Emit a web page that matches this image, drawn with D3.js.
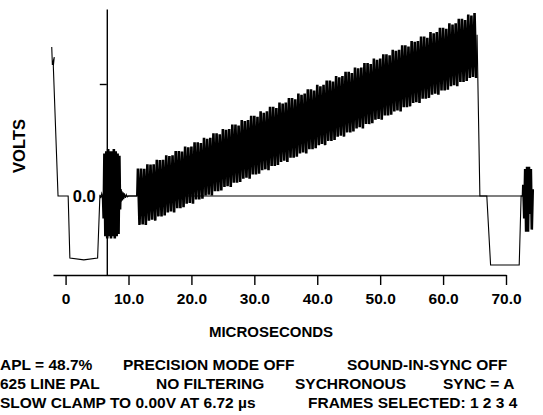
<!DOCTYPE html>
<html>
<head>
<meta charset="utf-8">
<script src="https://cdn.jsdelivr.net/npm/d3@7"></script>
<style>
  body { margin: 0; background: #fff; }
  text { font-family: "Liberation Sans", Arial, sans-serif; font-weight: bold; fill: #000; }
</style>
</head>
<body>
<div class="container"></div>
<script>
var svgWidth = 543;
var svgHeight = 415;
var margin = {
  top: 9,
  right: 37,
  bottom: 140,
  left: 53
};
var width = svgWidth - margin.left - margin.right;
var height = svgHeight - margin.top - margin.bottom;

// axis ticks
var xTicks = [0, 10, 20, 30, 40, 50, 60, 70];
var xTickLabels = ["0", "10.0", "20.0", "30.0", "40.0", "50.0", "60.0", "70.0"];
var yTicks = [0, 0.5];
var yTickLabels = ["0.0", ""];
var yAxisAt = 6.55; // microseconds, where the volts axis crosses

// end of previous line, sync and back porch (microseconds / volts)
var leadTime = [-2.2, -2.1, -1.8, -1.95, -1.2, 0.41, 0.68, 2.9, 5.09, 5.46, 5.6, 5.75, 5.9];
var leadVolts = [0.665, 0.585, 0.62, 0.58, 0.0, 0.0, -0.277, -0.285, -0.277, 0.005, -0.01, 0.012, 0.0];

// colour burst
var burstTime = [5.95, 6.05, 6.17, 6.32, 6.47, 6.62, 6.77, 6.92, 7.07, 7.22, 7.37, 7.52, 7.67, 7.82, 7.97, 8.12, 8.27, 8.42, 8.55, 8.66, 8.75];
var burstVolts = [0.0, -0.1, 0.19, -0.18, 0.2, -0.19, 0.21, -0.18, 0.2, -0.19, 0.2, -0.18, 0.21, -0.19, 0.2, -0.18, 0.19, -0.17, 0.18, -0.06, 0.03];

// ringing after the burst
var ringTime = [8.75, 8.85, 8.95, 9.05, 9.15, 9.25, 9.35, 9.5, 9.65, 9.8, 10.0, 11.35];
var ringVolts = [0.03, -0.025, 0.022, -0.02, 0.016, -0.014, 0.012, -0.008, 0.006, -0.004, 0.0, 0.0];

// modulated ramp, peaks read every 0.5 us (mV)
var rampStart = 11.5;
var rampStep = 0.5;
var rampHi = [
  123, 123, 121, 142, 140, 142, 162, 160, 162, 182, 178, 182,
  201, 201, 198, 221, 218, 221, 240, 240, 236, 260, 255, 260,
  280, 280, 276, 299, 296, 299, 319, 319, 314, 339, 335, 339,
  358, 358, 354, 378, 372, 378, 398, 398, 393, 417, 413, 417,
  437, 437, 432, 457, 452, 457, 476, 476, 471, 496, 490, 496,
  516, 516, 511, 535, 530, 535, 555, 555, 549, 574, 570, 574,
  594, 594, 589, 614, 608, 614, 633, 633, 628, 653, 648, 653,
  673, 673, 667, 692, 688, 692, 712, 712, 706, 732, 726, 732,
  751, 751, 746, 771, 766, 771, 791, 791, 785, 810, 806, 817
];
var rampLo = [
  -129, -127, -129, -110, -106, -110, -91, -91, -87, -73, -69, -73,
  -54, -54, -50, -35, -31, -35, -16, -16, -12, 2, 6, 2,
  21, 21, 25, 40, 44, 40, 59, 59, 63, 77, 82, 77,
  96, 96, 100, 115, 119, 115, 134, 134, 138, 152, 157, 152,
  171, 171, 175, 190, 194, 190, 209, 209, 213, 227, 232, 227,
  246, 246, 250, 265, 269, 265, 284, 284, 288, 302, 307, 302,
  321, 321, 325, 340, 344, 340, 359, 359, 363, 377, 382, 377,
  396, 396, 400, 415, 419, 415, 434, 434, 438, 452, 457, 452,
  471, 471, 475, 490, 494, 490, 509, 509, 513, 527, 531, 527
];

// fall back, front porch, next sync
var trailTime = [65.25, 65.4, 65.85, 66.95, 67.55, 72.1, 72.4, 72.7];
var trailVolts = [0.527, 0.72, 0.0, 0.0, -0.308, -0.308, 0.0, 0.0];

// start of next burst
var nextBurstTime = [72.7, 72.75, 72.9, 73.05, 73.2, 73.35, 73.5, 73.65, 73.8, 73.95, 74.1, 74.25];
var nextBurstVolts = [0.0, 0.05, -0.1, 0.12, -0.16, 0.13, -0.16, 0.13, -0.08, 0.12, -0.15, 0.03];

// zero reference
var zeroLine = [yAxisAt, 72.7];

var infoLines = [
  [{x: 0, t: "APL = 48.7%"}, {x: 123, t: "PRECISION MODE OFF"}, {x: 347, t: "SOUND-IN-SYNC OFF"}],
  [{x: 0, t: "625 LINE PAL"}, {x: 156, t: "NO FILTERING"}, {x: 295, t: "SYCHRONOUS"}, {x: 443, t: "SYNC = A"}],
  [{x: 0, t: "SLOW CLAMP TO 0.00V AT 6.72 \u00b5s"}, {x: 308, t: "FRAMES SELECTED: 1 2 3 4"}]
];

var svg = d3
  .select(".container")
  .append("svg")
  .attr("width", svgWidth)
  .attr("height", svgHeight);

var chartGroup = svg.append("g")
  .attr("transform", `translate(${margin.left}, ${margin.top})`);

var xScale = d3.scaleLinear()
  .domain([-2, 70])
  .range([0, width]);

var yScale = d3.scaleLinear()
  .domain([-0.3527, 0.8348])
  .range([height, 0]);

function toPoints(ts, vs) {
  return ts.map((t, i) => ({t: t, v: vs[i]}));
}

// the ramp as a zigzag between the read peaks
var rampPoints = [{t: 11.4, v: 0}];
rampHi.forEach(function(hi, i) {
  var t = rampStart + i * rampStep;
  rampPoints.push({t: t, v: hi / 1000});
  rampPoints.push({t: t + rampStep / 2, v: rampLo[i] / 1000});
});

// thin parts and dense (chroma) parts of the trace
var thinParts = [
  toPoints(leadTime, leadVolts),
  toPoints(ringTime, ringVolts),
  toPoints(trailTime, trailVolts)
];
var denseParts = [
  toPoints(burstTime, burstVolts),
  rampPoints,
  toPoints(nextBurstTime, nextBurstVolts)
];

// zero line
chartGroup.append("line")
  .attr("x1", xScale(zeroLine[0]))
  .attr("x2", xScale(zeroLine[1]))
  .attr("y1", yScale(0))
  .attr("y2", yScale(0))
  .attr("stroke", "#000")
  .attr("stroke-width", 1.2);

var line = d3.line()
  .x(d => xScale(d.t))
  .y(d => yScale(d.v));

chartGroup.selectAll(".thin")
  .data(thinParts)
  .enter()
  .append("path")
  .attr("class", "thin")
  .attr("d", line)
  .attr("fill", "none")
  .attr("stroke", "#000")
  .attr("stroke-width", 1.1);

chartGroup.selectAll(".dense")
  .data(denseParts)
  .enter()
  .append("path")
  .attr("class", "dense")
  .attr("d", line)
  .attr("fill", "none")
  .attr("stroke", "#000")
  .attr("stroke-width", 2.6)
  .attr("stroke-linejoin", "bevel");

// x axis
var bottomAxis = d3.axisBottom(xScale)
  .tickValues(xTicks)
  .tickFormat((d, i) => xTickLabels[i])
  .tickSize(10)
  .tickSizeOuter(0)
  .tickPadding(8);

var xAxis = chartGroup.append("g")
  .attr("transform", `translate(0, ${height})`)
  .call(bottomAxis);
xAxis.selectAll("path, line").attr("stroke-width", 1.4);
xAxis.selectAll("text")
  .style("font-family", "'Liberation Sans', Arial, sans-serif")
  .style("font-weight", "bold")
  .style("font-size", "15.5px");

// y axis
var leftAxis = d3.axisLeft(yScale)
  .tickValues(yTicks)
  .tickFormat((d, i) => yTickLabels[i])
  .tickSize(7)
  .tickSizeOuter(0)
  .tickPadding(4);

var yAxis = chartGroup.append("g")
  .attr("transform", `translate(${xScale(yAxisAt)}, 0)`)
  .call(leftAxis);
yAxis.selectAll("path, line").attr("stroke-width", 1.4);
yAxis.selectAll("text")
  .style("font-family", "'Liberation Sans', Arial, sans-serif")
  .style("font-weight", "bold")
  .style("font-size", "16.5px");

// axis titles
svg.append("text")
  .attr("x", 271)
  .attr("y", 337)
  .attr("text-anchor", "middle")
  .style("font-size", "15px")
  .text("MICROSECONDS");

svg.append("text")
  .attr("transform", "translate(25, 146) rotate(-90)")
  .attr("text-anchor", "middle")
  .style("font-size", "16.5px")
  .text("VOLTS");

// status lines under the chart
infoLines.forEach(function(row, r) {
  row.forEach(function(item) {
    svg.append("text")
      .attr("x", item.x)
      .attr("y", 370 + r * 19)
      .style("font-size", "15.5px")
      .text(item.t);
  });
});
</script>
</body>
</html>
